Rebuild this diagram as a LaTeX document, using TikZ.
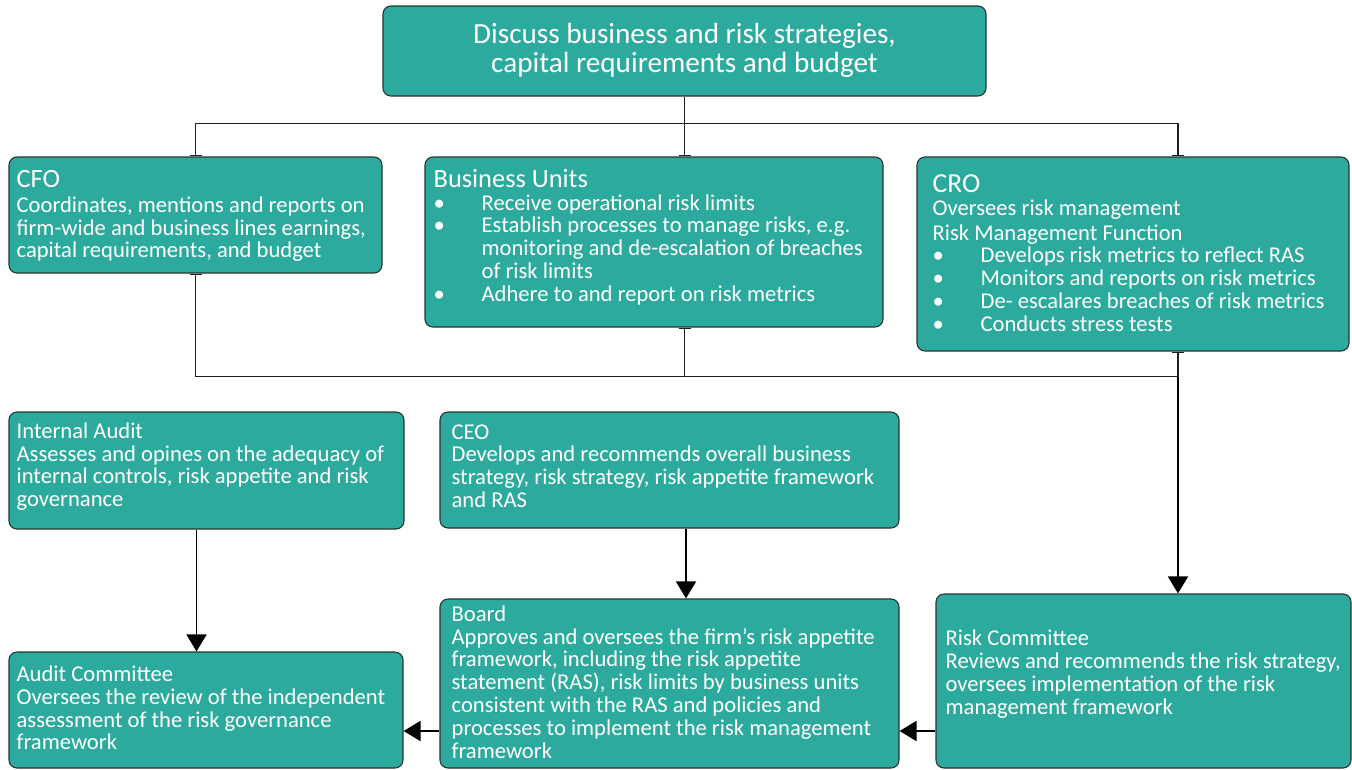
\documentclass[tikz,border=0pt]{standalone}
\usepackage{fontspec}
\setmainfont{Carlito}
\usetikzlibrary{arrows.meta}
\definecolor{tealbox}{RGB}{44,170,157}
\definecolor{edgecol}{RGB}{40,52,52}
\definecolor{linecol}{RGB}{30,30,30}
\newcommand{\bl}{\makebox[48pt][l]{\textbullet}}
\newcommand{\ind}{\hspace*{48pt}}
\begin{document}
\begin{tikzpicture}[x=1pt,y=-1pt,
  box/.style={draw=edgecol, line width=1.1pt, fill=tealbox, rounded corners=8pt, inner sep=0pt},
  txt/.style={text=white, align=left, anchor=west, inner sep=0pt, font=\fontsize{22.6}{22.8}\selectfont},
  tree/.style={draw=linecol, line width=1.4pt},
  tickend/.style={tree, -{Bar[width=12pt,line width=1.6pt]}},
  tickstart/.style={tree, {Bar[width=12pt,line width=1.6pt]}-},
  arr/.style={draw=black, line width=1.8pt, -{Triangle[width=20pt,length=17pt]}}
]
\useasboundingbox (0,0) rectangle (1352,769);

% boxes
\node[box, minimum width=603pt, minimum height=90pt] (top) at (684.5,51) {};
\node[box, minimum width=373pt, minimum height=116pt] (cfo) at (195.5,215) {};
\node[box, minimum width=458pt, minimum height=170pt] (bu) at (654,242) {};
\node[box, minimum width=432pt, minimum height=194pt] (cro) at (1133,254) {};
\node[box, minimum width=395pt, minimum height=117pt] (ia) at (206.5,470.5) {};
\node[box, minimum width=459pt, minimum height=116pt] (ceo) at (669.5,470) {};
\node[box, minimum width=394pt, minimum height=116pt] (ac) at (206,710) {};
\node[box, minimum width=459pt, minimum height=169pt] (board) at (669.5,683.5) {};
\node[box, minimum width=415pt, minimum height=174pt] (rc) at (1143.5,681) {};

% texts
\node[text=white, align=center, inner sep=0pt, font=\fontsize{29.2}{29}\selectfont] (toptxt) at ([yshift=0.5pt]top.center)
  {Discuss business and risk strategies,\\capital requirements and budget};

\node[txt] (cfotxt) at ([xshift=8pt,yshift=-1pt]cfo.west)
  {{\fontsize{26.4}{22.5}\selectfont CFO}\\[2pt]
   Coordinates, mentions and reports on\\
   firm-wide and business lines earnings,\\
   capital requirements, and budget};

\node[txt] (butxt) at ([xshift=9pt,yshift=5pt]bu.west)
  {{\fontsize{26.4}{22.5}\selectfont Business Units}\\
   \bl Receive operational risk limits\\
   \bl Establish processes to manage risks, e.g.\\
   \ind monitoring and de-escalation of breaches\\
   \ind of risk limits\\
   \bl Adhere to and report on risk metrics};

\node[txt] (crotxt) at ([xshift=16pt,yshift=1pt]cro.west)
  {{\fontsize{27.5}{23.5}\selectfont CRO}\\
   Oversees risk management\\[2pt]
   Risk Management Function\\
   \bl Develops risk metrics to reflect RAS\\
   \bl Monitors and reports on risk metrics\\
   \bl De- escalares breaches of risk metrics\\
   \bl Conducts stress tests};

\node[txt] (iatxt) at ([xshift=8pt,yshift=4pt]ia.west)
  {Internal Audit\\
   Assesses and opines on the adequacy of\\
   internal controls, risk appetite and risk\\
   governance};

\node[txt] (ceotxt) at ([xshift=12pt,yshift=4pt]ceo.west)
  {CEO\\
   Develops and recommends overall business\\
   strategy, risk strategy, risk appetite framework\\
   and RAS};

\node[txt] (actxt) at ([xshift=8pt,yshift=2pt]ac.west)
  {Audit Committee\\
   Oversees the review of the independent\\
   assessment of the risk governance\\
   framework};

\node[txt] (boardtxt) at ([xshift=12pt,yshift=1.5pt]board.west)
  {Board\\
   Approves and oversees the firm’s risk appetite\\
   framework, including the risk appetite\\
   statement (RAS), risk limits by business units\\
   consistent with the RAS and policies and\\
   processes to implement the risk management\\
   framework};

\node[txt] (rctxt) at ([xshift=10pt,yshift=7pt]rc.west)
  {Risk Committee\\
   Reviews and recommends the risk strategy,\\
   oversees implementation of the risk\\
   management framework};

% top tree
\coordinate (hub) at ([yshift=-27pt]top.south);
\coordinate (crox) at ([xshift=45pt]cro.north);
\draw[tree] (top.south) -- (hub);
\draw[tickend] (hub) -| (cfo.north);
\draw[tickend] (hub) -| (crox);
\draw[tickend] (hub) -- (hub |- bu.north);

% bottom tree
\coordinate (crob) at ([xshift=45pt]cro.south);
\coordinate (jn) at ([yshift=-25pt]crob);
\draw[tickstart] (cfo.south) |- (jn);
\draw[tickstart] (hub |- bu.south) -- (hub |- jn);
\draw[tickstart] (crob) -- (jn);
\draw[arr] (jn) -- (crob |- rc.north);

% lower arrows
\coordinate (iax) at ([xshift=-10pt]ia.south);
\draw[arr] (iax) -- (iax |- ac.north);
\coordinate (ceox) at ([xshift=16.5pt]ceo.south);
\draw[arr] (ceox) -- (ceox |- board.north);
\coordinate (ly) at (0,731);
\draw[arr] (board.west |- ly) -- (ac.east |- ly);
\draw[arr] (rc.west |- ly) -- (board.east |- ly);
\end{tikzpicture}
\end{document}
